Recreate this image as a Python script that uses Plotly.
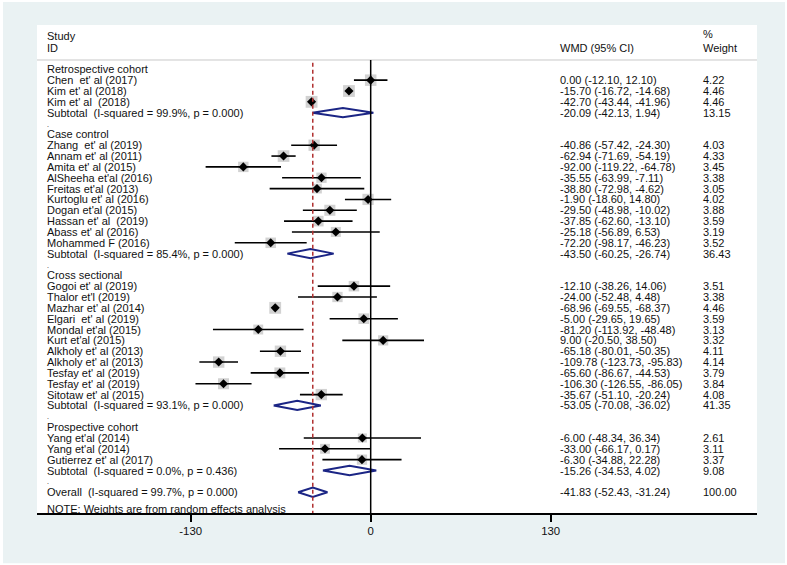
import plotly.graph_objects as go

# group names, study labels, WMD, CI and % weight
group_names = ["Retrospective cohort", "Case control", "Cross sectional", "Prospective cohort"]

study_labels = [
    ["Chen  et' al (2017)", "Kim et' al (2018)", "Kim et' al  (2018)"],
    ["Zhang  et' al (2019)", "Annam et' al (2011)", "Amita et' al (2015)", "AlSheeha et'al (2016)",
     "Freitas et'al (2013)", "Kurtoglu et' al (2016)", "Dogan et'al (2015)", "Hassan et' al  (2019)",
     "Abass et' al (2016)", "Mohammed F (2016)"],
    ["Gogoi et' al (2019)", "Thalor et'l (2019)", "Mazhar et' al (2014)", "Elgari  et' al (2019)",
     "Mondal et'al (2015)", "Kurt et'al (2015)", "Alkholy et' al (2013)", "Alkholy et' al (2013)",
     "Tesfay et' al (2019)", "Tesfay et' al (2019)", "Sitotaw et' al (2015)"],
    ["Yang et'al (2014)", "Yang et'al (2014)", "Gutierrez et' al (2017)"],
]
study_wmd = [
    [0.00, -15.70, -42.70],
    [-40.86, -62.94, -92.00, -35.55, -38.80, -1.90, -29.50, -37.85, -25.18, -72.20],
    [-12.10, -24.00, -68.96, -5.00, -81.20, 9.00, -65.18, -109.78, -65.60, -106.30, -35.67],
    [-6.00, -33.00, -6.30],
]
study_lo = [
    [-12.10, -16.72, -43.44],
    [-57.42, -71.69, -119.22, -63.99, -72.98, -18.60, -48.98, -62.60, -56.89, -98.17],
    [-38.26, -52.48, -69.55, -29.65, -113.92, -20.50, -80.01, -123.73, -86.67, -126.55, -51.10],
    [-48.34, -66.17, -34.88],
]
study_hi = [
    [12.10, -14.68, -41.96],
    [-24.30, -54.19, -64.78, -7.11, -4.62, 14.80, -10.02, -13.10, 6.53, -46.23],
    [14.06, 4.48, -68.37, 19.65, -48.48, 38.50, -50.35, -95.83, -44.53, -86.05, -20.24],
    [36.34, 0.17, 22.28],
]
study_weight = [
    [4.22, 4.46, 4.46],
    [4.03, 4.33, 3.45, 3.38, 3.05, 4.02, 3.88, 3.59, 3.19, 3.52],
    [3.51, 3.38, 4.46, 3.59, 3.13, 3.32, 4.11, 4.14, 3.79, 3.84, 4.08],
    [2.61, 3.11, 3.37],
]

sub_labels = [
    "Subtotal  (I-squared = 99.9%, p = 0.000)",
    "Subtotal  (I-squared = 85.4%, p = 0.000)",
    "Subtotal  (I-squared = 93.1%, p = 0.000)",
    "Subtotal  (I-squared = 0.0%, p = 0.436)",
]
sub_wmd = [-20.09, -43.50, -53.05, -15.26]
sub_lo = [-42.13, -60.25, -70.08, -34.53]
sub_hi = [1.94, -26.74, -36.02, 4.02]
sub_weight = [13.15, 36.43, 41.35, 9.08]

overall_label = "Overall  (I-squared = 99.7%, p = 0.000)"
overall_wmd = -41.83
overall_lo = -52.43
overall_hi = -31.24
overall_weight = 100.00

x_ticks = [-130, 0, 130]

FONT = "Liberation Sans, Arial, sans-serif"
FS = 11.0
X_RANGE = [-241, 279]
Y_BOTTOM = 40.92
Y_TOP = -4.087
X_LABEL = -234.3
X_WMD = 136.0
X_WT = 239.6
NAVY = "#1b2585"


def nb(s):
    return s.replace("  ", " \u00a0")


def fmt(e, lo, hi):
    return f"{e:.2f} ({lo:.2f}, {hi:.2f})"


annotations = []


def add_text(x, y, text, size=FS):
    annotations.append(dict(x=x, y=y, xref="x", yref="y", text=nb(text), showarrow=False,
                            xanchor="left", yanchor="middle", align="left", borderpad=0,
                            font=dict(family=FONT, size=size, color="#111111")))


fig = go.Figure()

ci_x, ci_y = [], []
box_x, box_y, box_s = [], [], []
diamonds = []

row = 0
for g in range(len(group_names)):
    add_text(X_LABEL, row, group_names[g])
    row += 1
    for i in range(len(study_labels[g])):
        add_text(X_LABEL, row, study_labels[g][i])
        add_text(X_WMD, row, fmt(study_wmd[g][i], study_lo[g][i], study_hi[g][i]))
        add_text(X_WT, row, f"{study_weight[g][i]:.2f}")
        ci_x += [study_lo[g][i], study_hi[g][i], None]
        ci_y += [row, row, None]
        box_x.append(study_wmd[g][i])
        box_y.append(row)
        box_s.append(5.6 * study_weight[g][i] ** 0.5)
        row += 1
    add_text(X_LABEL, row, sub_labels[g])
    add_text(X_WMD, row, fmt(sub_wmd[g], sub_lo[g], sub_hi[g]))
    add_text(X_WT, row, f"{sub_weight[g]:.2f}")
    diamonds.append((sub_lo[g], sub_wmd[g], sub_hi[g], row))
    row += 1
    # blank spacer row, which Stata marks with a lone "."
    add_text(X_LABEL, row + 0.05, ".", size=7)
    row += 1

add_text(X_LABEL, row, overall_label)
add_text(X_WMD, row, fmt(overall_wmd, overall_lo, overall_hi))
add_text(X_WT, row, f"{overall_weight:.2f}")
diamonds.append((overall_lo, overall_wmd, overall_hi, row))

add_text(X_LABEL, row + 1.53, "NOTE: Weights are from random effects analysis")

# header
add_text(X_LABEL, -3.04, "Study")
add_text(X_LABEL, -1.99, "ID")
add_text(X_WMD, -1.99, "WMD (95% CI)")
add_text(X_WT, -3.23, "%")
add_text(X_WT, -1.99, "Weight")

# weight boxes
fig.add_trace(go.Scatter(x=box_x, y=box_y, mode="markers", hoverinfo="skip",
                         marker=dict(symbol="square", size=box_s, color="#bfbfbf",
                                     line=dict(width=0))))
# CI lines
fig.add_trace(go.Scatter(x=ci_x, y=ci_y, mode="lines", hoverinfo="skip",
                         line=dict(color="black", width=1.6)))
# point estimates
fig.add_trace(go.Scatter(x=box_x, y=box_y, mode="markers", hoverinfo="skip",
                         marker=dict(symbol="diamond", size=7, color="black")))
# pooled diamonds
for lo, est, hi, r in diamonds:
    fig.add_trace(go.Scatter(x=[lo, est, hi, est, lo], y=[r, r - 0.43, r, r + 0.43, r],
                             mode="lines", fill="toself", fillcolor="white", hoverinfo="skip",
                             line=dict(color=NAVY, width=2)))

shapes = [
    # outer bluish background and white plot region
    dict(type="rect", xref="paper", yref="paper", x0=-0.0472, x1=1.0389, y0=-0.103, y1=1.047,
         fillcolor="#eaf2f3", line=dict(width=0), layer="below"),
    dict(type="rect", xref="paper", yref="paper", x0=0, x1=1, y0=0, y1=1,
         fillcolor="white", line=dict(width=0), layer="below"),
    # header rule
    dict(type="line", xref="paper", yref="y", x0=0, x1=1, y0=-0.86, y1=-0.86,
         line=dict(color="#c8c8c8", width=1)),
    # no-effect line
    dict(type="line", xref="x", yref="y", x0=0, x1=0, y0=-0.86, y1=Y_BOTTOM,
         line=dict(color="black", width=1.5)),
    # overall estimate line
    dict(type="line", xref="x", yref="y", x0=overall_wmd, x1=overall_wmd, y0=-0.6, y1=Y_BOTTOM,
         line=dict(color="#b03030", width=1.5, dash="4px,3px")),
]

fig.update_layout(
    width=787, height=565,
    margin=dict(l=37, r=30, t=25, b=52),
    paper_bgcolor="white", plot_bgcolor="white",
    showlegend=False,
    shapes=shapes,
    annotations=annotations,
    font=dict(family=FONT, size=FS, color="black"),
    xaxis=dict(range=X_RANGE, tickvals=x_ticks, ticktext=[str(t) for t in x_ticks],
               showgrid=False, zeroline=False, showline=True, linecolor="black", linewidth=1.5,
               ticks="outside", ticklen=7, tickwidth=1.5, tickcolor="black",
               tickfont=dict(family=FONT, size=11.4, color="#111111"), fixedrange=True),
    yaxis=dict(range=[Y_BOTTOM, Y_TOP], visible=False, showgrid=False, zeroline=False,
               fixedrange=True),
)

# drop the page's default body margin so the figure sits at the window's corner
fig.write_html("out.html", config={"displayModeBar": False},
               post_script="document.body.style.margin='0';document.body.style.overflow='hidden';")
